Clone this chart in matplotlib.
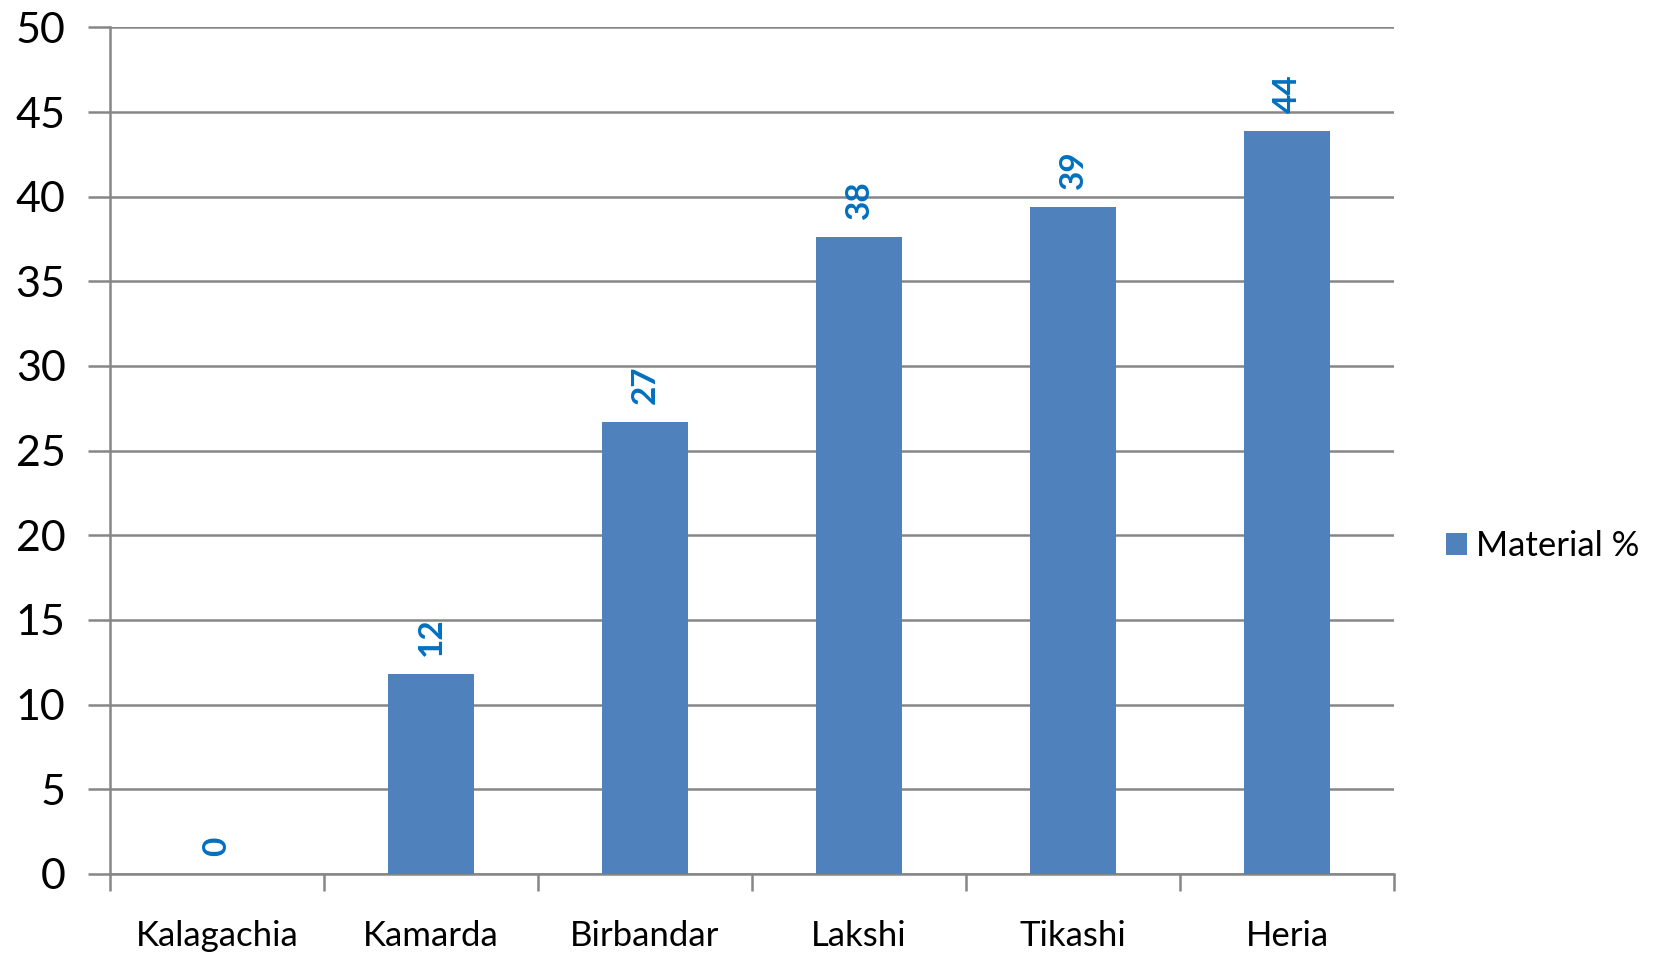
import numpy as np
import matplotlib.pyplot as plt

# data
sites = ["Kalagachia", "Kamarda", "Birbandar", "Lakshi", "Tikashi", "Heria"]
material = [0, 11.8, 26.7, 37.6, 39.4, 43.9]
series_name = "Material %"

plt.rcParams['font.family'] = ['Lato', 'DejaVu Sans']

fig = plt.figure(figsize=(16.55, 9.56), dpi=100)
ax = fig.add_axes([0.0665, 0.0858, 0.7758, 0.8856])

x = np.arange(len(sites))
bars = ax.bar(x, material, width=0.4, color="#4F81BD", label=series_name, zorder=3)

# data labels, rotated, above each bar
for xi, v in zip(x, material):
    ax.annotate(f"{v:.0f}", (xi, v), xytext=(0, 13), textcoords="offset points",
                rotation=90, ha="center", va="bottom", fontsize=24,
                fontweight="bold", color="#0070C0")

ax.set_xlim(-0.5, len(sites) - 0.5)
ax.set_ylim(0, 50)
ax.set_yticks(np.arange(0, 51, 5))
ax.yaxis.grid(True, color="#868686", linewidth=1.8, zorder=0)

ax.set_xticks(x)
ax.set_xticklabels(sites, fontsize=25)
ax.set_xticks(np.arange(-0.5, len(sites)), minor=True)
ax.tick_params(axis="x", which="major", length=0, pad=33)
ax.tick_params(axis="x", which="minor", length=12, width=1.8, color="#868686")
ax.tick_params(axis="y", length=16, width=1.8, color="#868686", labelsize=31, pad=16)

for s in ["top", "right"]:
    ax.spines[s].set_visible(False)
for s in ["left", "bottom"]:
    ax.spines[s].set_color("#868686")
    ax.spines[s].set_linewidth(1.8)

fig.legend(handles=[bars], labels=[series_name], loc="center left",
           bbox_to_anchor=(0.874, 0.429), frameon=False,
           fontsize=25, handlelength=0.6, handleheight=0.6, handletextpad=0.25,
           borderaxespad=0, borderpad=0)

fig.savefig("out.png", dpi=100)
